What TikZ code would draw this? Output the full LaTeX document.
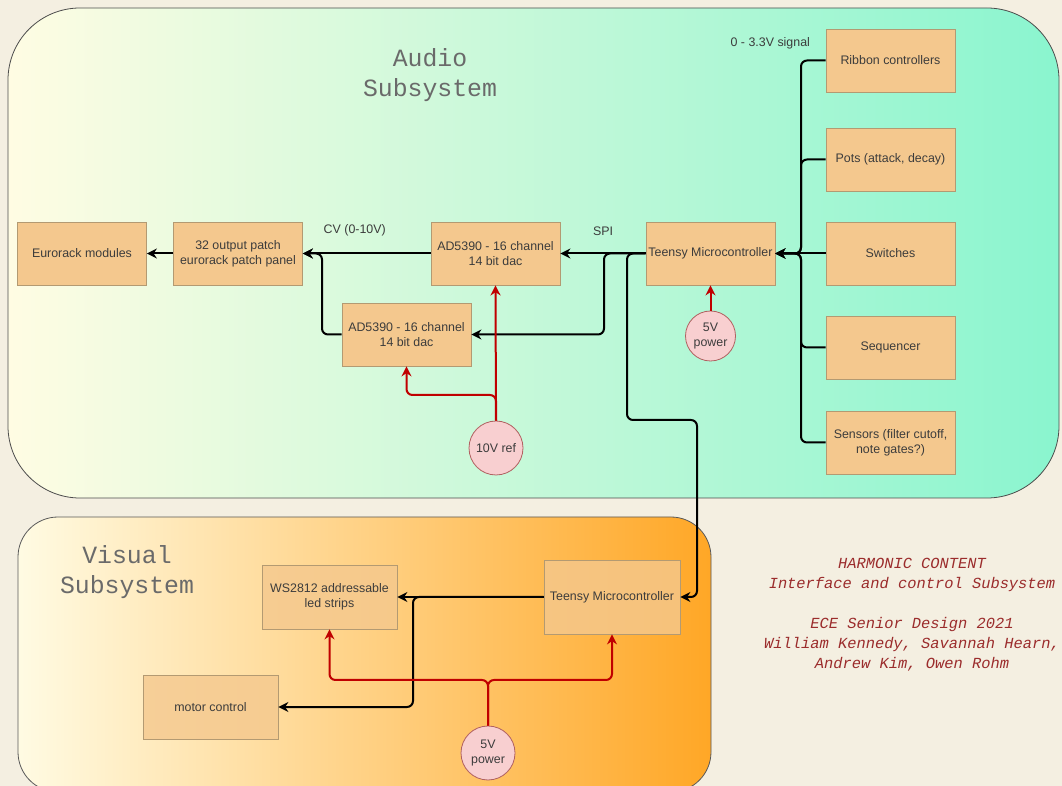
\documentclass[tikz,border=0pt]{standalone}
\usepackage{fontspec}
\setmainfont{Liberation Sans}
\newfontfamily\monofont{Liberation Mono}
\usepackage{tikz}
\usetikzlibrary{arrows.meta, calc}
\definecolor{paper}{HTML}{F4EFE1}
\definecolor{boxfill}{HTML}{F4C88E}
\definecolor{boxline}{HTML}{B39A72}
\definecolor{boxtext}{HTML}{3C3C3C}
\definecolor{supplyfill}{HTML}{F8CFD0}
\definecolor{supplyline}{HTML}{B06060}
\definecolor{powerred}{HTML}{C00000}
\definecolor{titlegray}{HTML}{6A6A6A}
\definecolor{creditred}{HTML}{9B2C2C}
\definecolor{audioleft}{HTML}{FFFCE3}
\definecolor{audiomid}{HTML}{C2FBD8}
\definecolor{audioright}{HTML}{8AF5CF}
\definecolor{visualleft}{HTML}{FFFBE3}
\definecolor{visualmid}{HTML}{FFD98E}
\definecolor{visualright}{HTML}{FFA726}

\begin{document}
\begin{tikzpicture}[x=0.5pt, y=-0.5pt,
    block/.style={draw=boxline, fill=boxfill, minimum width=64.5pt, minimum height=31.5pt,
        align=center, inner sep=1pt, text=boxtext, font=\fontsize{6.2}{7.4}\selectfont},
    vblock/.style={block, minimum width=67.5pt, minimum height=32pt, fill opacity=.8, text opacity=1},
    supply/.style={circle, draw=supplyline, fill=supplyfill, minimum size=25pt, inner sep=0pt,
        align=center, text=boxtext, font=\fontsize{6.2}{7.4}\selectfont},
    wire/.style={line width=1pt, rounded corners=3pt, -{Stealth[length=5pt, width=5pt]}},
    power/.style={wire, draw=powerred},
    sig/.style={text=boxtext, font=\fontsize{6.2}{7.4}\selectfont},
    title/.style={text=titlegray, align=center, font=\monofont\fontsize{12.4}{15}\selectfont}]

    \useasboundingbox (0,0) rectangle (1062,786);
    \fill[paper] (0,0) rectangle (1062,786);
    \path[draw=black!70, left color=audioleft, middle color=audiomid, right color=audioright,
        rounded corners=36pt] (8,8) rectangle (1059,498);
    \path[draw=black!65, left color=visualleft, middle color=visualmid, right color=visualright,
        rounded corners=20pt] (18,517) rectangle (711,792);

    \node[title] (audiotitle) at (430,75) {Audio\\Subsystem};
    \node[title] (visualtitle) at (127,572) {Visual\\Subsystem};

    \node[block] (euro) at (82,253.5) {Eurorack modules};
    \node[block] (patch) at (238,253.5) {32 output patch\\eurorack patch panel};
    \node[block] (dacA) at (495.5,253.5) {AD5390 - 16 channel\\14 bit dac};
    \node[block] (dacB) at (406.5,334.5) {AD5390 - 16 channel\\14 bit dac};
    \node[block] (teensyA) at (710.5,253.5) {Teensy Microcontroller};
    \node[block] (ribbon) at (890.5,60.5) {Ribbon controllers};
    \node[block] (pots) at (890.5,159.5) {Pots (attack, decay)};
    \node[block] (switches) at (890.5,253.5) {Switches};
    \node[block] (sequencer) at (890.5,347.5) {Sequencer};
    \node[block] (sensors) at (890.5,442.5) {Sensors (filter cutoff,\\note gates?)};
    \node[supply] (pwrA) at (710.5,336) {5V\\power};
    \node[supply, minimum size=27pt] (ref10) at (496,448) {10V ref};

    \node[sig, anchor=east] (siglabel) at (817,43) {0 - 3.3V signal};

    \coordinate (bus) at (801,253.5);
    \foreach \src in {ribbon, pots, sequencer, sensors}
        \draw[wire] (\src.west) -| (bus) -- (teensyA.east);
    \draw[wire] (switches.west) -- (teensyA.east);

    \draw[wire] (teensyA.west) -- node[sig, above=5pt] (spilabel) {SPI} (dacA.east);
    \coordinate (spiB) at (604,334.5);
    \draw[wire] (teensyA.west) -| (spiB) -- (dacB.east);

    \draw[wire] (dacA.west) -- node[sig, above=5pt, xshift=-6pt] (cvlabel) {CV (0-10V)} (patch.east);
    \coordinate (cvB) at (322,334.5);
    \draw[wire] (dacB.west) -- (cvB) |- (patch.east);
    \draw[wire] (patch.west) -- (euro.east);

    \draw[power] (pwrA.north) -- (teensyA.south);
    \draw[power] (ref10.north) -- (dacA.south);
    \coordinate (refB) at (406.5,395);
    \draw[power] (ref10.north) |- (refB) -- (dacB.south);

    \node[vblock] (leds) at (329.5,597) {WS2812 addressable\\led strips};
    \node[vblock, minimum width=68pt, minimum height=37pt] (teensyV) at (612,597) {Teensy Microcontroller};
    \node[vblock] (motor) at (210.5,707) {motor control};
    \node[supply, minimum size=27pt] (pwrV) at (488,753) {5V\\power};

    \coordinate (link1) at (627,420);
    \coordinate (link2) at (697,597);
    \draw[wire] (teensyA.west) -| (link1) -| (link2) -- (teensyV.east);

    \draw[wire] (teensyV.west) -- (leds.east);
    \coordinate (motorB) at (413,707);
    \draw[wire] (teensyV.west) -| (motorB) -- (motor.east);

    \coordinate (split) at (488,680);
    \draw[power] (pwrV.north) |- (leds.south |- split) -- (leds.south);
    \draw[power] (pwrV.north) |- (teensyV.south |- split) -- (teensyV.south);

    \node[text=creditred, align=center, font=\monofont\itshape\fontsize{7.7}{10}\selectfont] (credits) at (912,615)
        {HARMONIC CONTENT\\Interface and control Subsystem\\[10pt]ECE Senior Design 2021\\William Kennedy, Savannah Hearn,\\Andrew Kim, Owen Rohm};
\end{tikzpicture}
\end{document}
